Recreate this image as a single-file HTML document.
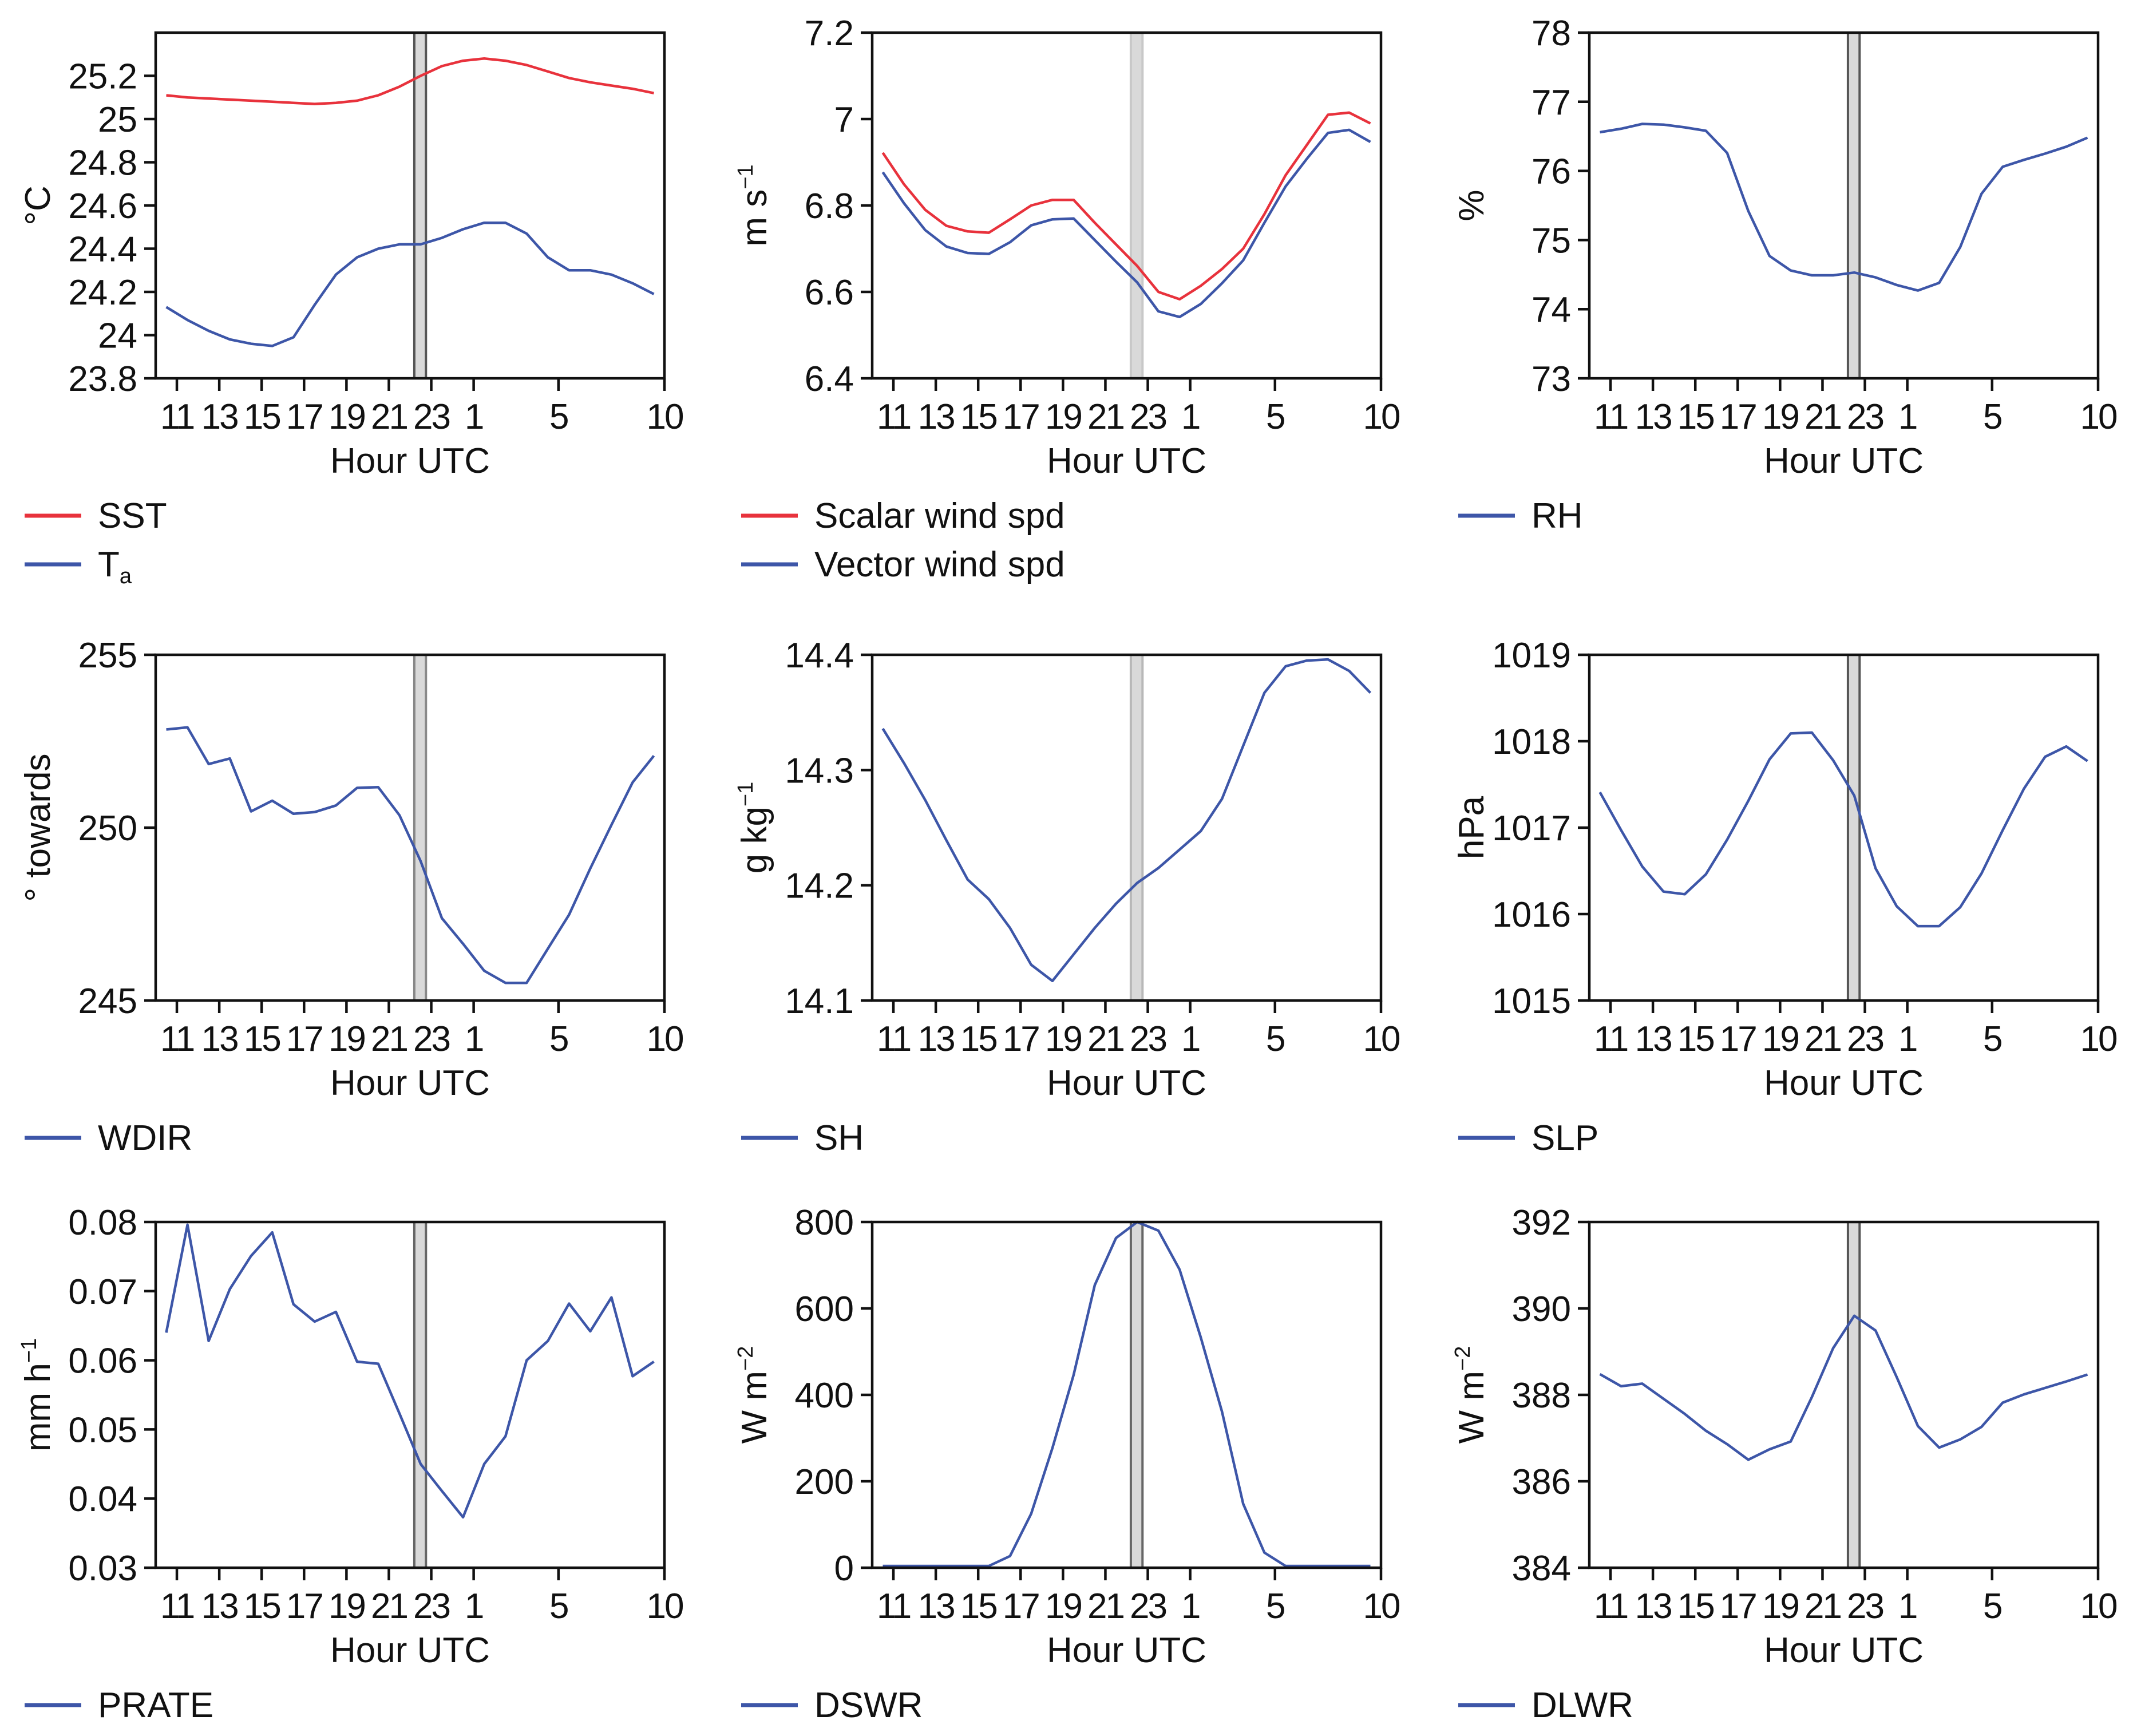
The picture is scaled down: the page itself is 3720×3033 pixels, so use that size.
<!DOCTYPE html>
<html><head><meta charset="utf-8"><style>
html,body{margin:0;padding:0;background:#fff;}
svg{display:block;}
text{font-family:"Liberation Sans",Arial,sans-serif;fill:#111;}
</style></head>
<body>
<svg id="fig" xmlns="http://www.w3.org/2000/svg" width="3720" height="3033" viewBox="0 0 3720 3033"></svg>
<script>
const hours = [10.5,11.5,12.5,13.5,14.5,15.5,16.5,17.5,18.5,19.5,20.5,21.5,22.5,23.5,24.5,25.5,26.5,27.5,28.5,29.5,30.5,31.5,32.5,33.5];
const xTickHours = [11,13,15,17,19,21,23,25,29,34];
const xTickLabels = ["11","13","15","17","19","21","23","1","5","10"];
const sstVals = [25.11,25.10,25.095,25.09,25.085,25.08,25.075,25.07,25.075,25.085,25.11,25.15,25.20,25.245,25.27,25.28,25.27,25.25,25.22,25.19,25.17,25.155,25.14,25.12];
const taVals = [24.13,24.07,24.02,23.98,23.96,23.95,23.99,24.14,24.28,24.36,24.40,24.42,24.42,24.45,24.49,24.52,24.52,24.47,24.36,24.30,24.30,24.28,24.24,24.19];
const scalarVals = [6.922,6.849,6.79,6.753,6.74,6.737,6.768,6.80,6.813,6.813,6.76,6.71,6.66,6.60,6.583,6.614,6.653,6.70,6.78,6.87,6.94,7.01,7.015,6.99];
const vectorVals = [6.877,6.805,6.743,6.705,6.69,6.688,6.715,6.754,6.768,6.77,6.72,6.67,6.622,6.555,6.542,6.572,6.62,6.673,6.76,6.844,6.908,6.968,6.975,6.947];
const rhVals = [76.56,76.61,76.68,76.67,76.63,76.58,76.26,75.42,74.77,74.56,74.49,74.49,74.53,74.46,74.35,74.27,74.38,74.9,75.67,76.06,76.16,76.25,76.35,76.48];
const wdirVals = [252.84,252.9,251.84,252.0,250.47,250.78,250.4,250.45,250.64,251.15,251.17,250.36,249.03,247.38,246.64,245.86,245.51,245.51,246.5,247.48,248.82,250.08,251.31,252.08];
const shVals = [14.336,14.306,14.274,14.239,14.205,14.188,14.163,14.131,14.117,14.14,14.163,14.184,14.202,14.215,14.231,14.247,14.275,14.321,14.367,14.39,14.395,14.396,14.386,14.367];
const slpVals = [1017.41,1016.97,1016.55,1016.26,1016.23,1016.46,1016.86,1017.31,1017.79,1018.09,1018.1,1017.78,1017.37,1016.53,1016.09,1015.86,1015.86,1016.08,1016.47,1016.97,1017.45,1017.82,1017.94,1017.77];
const prateVals = [0.0640,0.0796,0.0628,0.0703,0.0751,0.0785,0.0681,0.0656,0.0670,0.0598,0.0595,0.0523,0.0450,0.0411,0.0373,0.0450,0.0490,0.0600,0.0628,0.0682,0.0642,0.0691,0.0577,0.0598];
const dswrVals = [0,0,0,0,0,0,27,125,277,446,654,763,800,780,690,533,361,148,35,0,0,0,0,0];
const dlwrVals = [388.48,388.2,388.26,387.91,387.56,387.17,386.86,386.5,386.74,386.92,387.95,389.08,389.83,389.49,388.41,387.28,386.78,386.97,387.26,387.82,388.01,388.16,388.31,388.47];
const t1 = ["23.8","24","24.2","24.4","24.6","24.8","25","25.2"];
const t2 = ["6.4","6.6","6.8","7","7.2"];
const t3 = ["73","74","75","76","77","78"];
const t4 = ["245","250","255"];
const t5 = ["14.1","14.2","14.3","14.4"];
const t6 = ["1015","1016","1017","1018","1019"];
const t7 = ["0.03","0.04","0.05","0.06","0.07","0.08"];
const t8 = ["0","200","400","600","800"];
const t9 = ["384","386","388","390","392"];
const bandStart = 22.2, bandEnd = 22.75;

const NS = "http://www.w3.org/2000/svg";
const svg = document.getElementById("fig");
const COLX = [272,1524,2777], ROWY = [57,1144,2135], W = 889, H = 604;
const RED = "#e8323c", BLUE = "#3d56a8";
function mk(tag, attrs, parent){const e=document.createElementNS(NS,tag);for(const k in attrs)e.setAttribute(k,attrs[k]);(parent||svg).appendChild(e);return e;}

const panels = [
 {c:0,r:0,min:23.8,max:25.4,ticks:t1,label:["°C"],series:[["sst",sstVals,RED,"SST"],["ta",taVals,BLUE,"T","a"]],edge:"#555"},
 {c:1,r:0,min:6.4,max:7.2,ticks:t2,label:["m s","−1"],series:[["scalar-wind",scalarVals,RED,"Scalar wind spd"],["vector-wind",vectorVals,BLUE,"Vector wind spd"]],edge:"#c8c8c8"},
 {c:2,r:0,min:73,max:78,ticks:t3,label:["%"],series:[["rh",rhVals,BLUE,"RH"]],edge:"#555"},
 {c:0,r:1,min:245,max:255,ticks:t4,label:["° towards"],series:[["wdir",wdirVals,BLUE,"WDIR"]],edge:"#888"},
 {c:1,r:1,min:14.1,max:14.4,ticks:t5,label:["g kg","−1"],series:[["sh",shVals,BLUE,"SH"]],edge:"#b8b8b8"},
 {c:2,r:1,min:1015,max:1019,ticks:t6,label:["hPa"],series:[["slp",slpVals,BLUE,"SLP"]],edge:"#555"},
 {c:0,r:2,min:0.03,max:0.08,ticks:t7,label:["mm h","−1"],series:[["prate",prateVals,BLUE,"PRATE"]],edge:"#666"},
 {c:1,r:2,min:0,max:800,ticks:t8,label:["W m","−2"],series:[["dswr",dswrVals,BLUE,"DSWR"]],edge:"#666"},
 {c:2,r:2,min:384,max:392,ticks:t9,label:["W m","−2"],series:[["dlwr",dlwrVals,BLUE,"DLWR"]],edge:"#555"}
];
const legendY = [901,1988,2979];

panels.forEach((p,i)=>{
  const x0=COLX[p.c], y0=ROWY[p.r];
  const xs = h => x0 + (h-10)/24*W;
  const ys = v => y0 + H - (v-p.min)/(p.max-p.min)*H;
  const g = mk("g",{});
  
  
  const bx1=xs(bandStart), bx2=xs(bandEnd);
  const band = mk("rect",{x:bx1,y:y0,width:bx2-bx1,height:H,fill:"#d9d9d9"},g);
  
  
  mk("line",{x1:bx1,y1:y0,x2:bx1,y2:y0+H,stroke:p.edge,"stroke-width":4},g);
  mk("line",{x1:bx2,y1:y0,x2:bx2,y2:y0+H,stroke:p.edge,"stroke-width":4},g);
  p.series.forEach(s=>{
    const d = s[1].map((v,k)=>(k?"L":"M")+xs(hours[k]).toFixed(1)+","+Math.min(ys(v),y0+H-3).toFixed(1)).join(" ");
    const path = mk("path",{d:d,fill:"none",stroke:s[2],"stroke-width":4.5,"stroke-linejoin":"round"},g);
    
    
  });
  const fr = mk("rect",{x:x0,y:y0,width:W,height:H,fill:"none",stroke:"#111","stroke-width":4.5},g);
  
  
  p.ticks.forEach((lab)=>{
    const v = parseFloat(lab), y = ys(v);
    mk("line",{x1:x0-20,y1:y,x2:x0,y2:y,stroke:"#111","stroke-width":4.5},g);
    const t = mk("text",{x:x0-32,y:y+22,"font-size":62,"text-anchor":"end"},g);
    t.textContent = lab;
    
    
  });
  xTickHours.forEach((h,k)=>{
    const x = xs(h);
    mk("line",{x1:x,y1:y0+H,x2:x,y2:y0+H+22,stroke:"#111","stroke-width":4.5},g);
    const t = mk("text",{x:x,y:y0+H+88,"font-size":62,"text-anchor":"middle","letter-spacing":-3},g);
    t.textContent = xTickLabels[k];
    
    
  });
  const xt = mk("text",{x:x0+W/2,y:y0+H+165,"font-size":62,"text-anchor":"middle"},g);
  xt.textContent = "Hour UTC";
  
  
  const lx = x0-205, ly = y0+H/2;
  const yl = mk("text",{x:lx,y:ly,"font-size":62,"text-anchor":"middle",transform:"rotate(-90 "+lx+" "+ly+")",dy:20},g);
  
  
  const ts = mk("tspan",{},yl); ts.textContent = p.label[0];
  if(p.label[1]){ const sup = mk("tspan",{"font-size":38,dy:-24},yl); sup.textContent = p.label[1]; }
  p.series.forEach((s,k)=>{
    const ly2 = legendY[p.r] + k*85;
    const lxx = x0 - 229;
    const ll = mk("line",{x1:lxx,y1:ly2,x2:lxx+99,y2:ly2,stroke:s[2],"stroke-width":7},g);
    
    
    const lt = mk("text",{x:lxx+128,y:ly2+21,"font-size":62},g);
    
    
    const a = mk("tspan",{},lt); a.textContent = s[3];
    if(s[4]){ const b = mk("tspan",{"font-size":38,dy:12},lt); b.textContent = s[4]; }
  });
});
</script>
</body></html>
